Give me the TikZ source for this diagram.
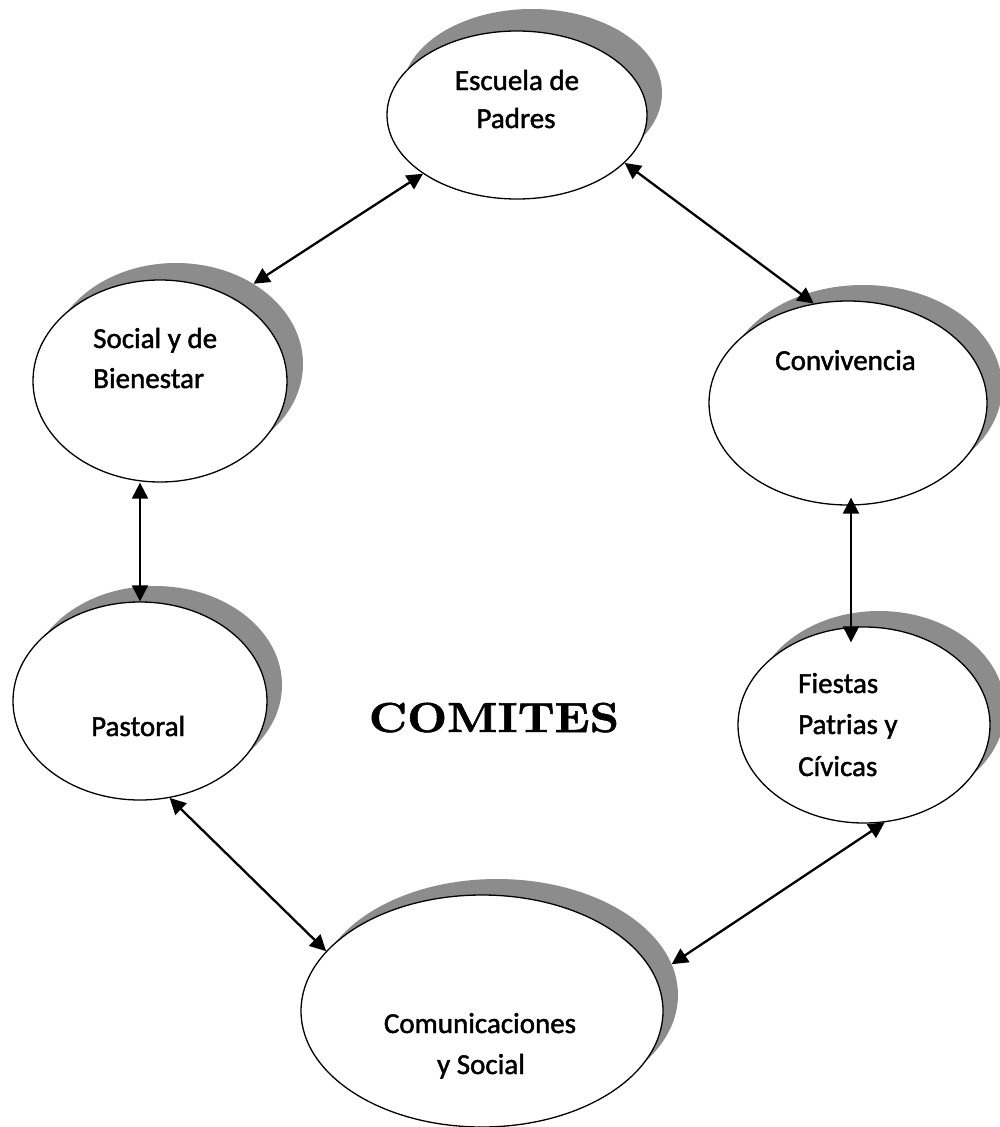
\documentclass[tikz,border=0pt]{standalone}
\usepackage{fontspec}
\usepackage{graphicx}
\newfontfamily\bodyfont{Carlito}[FakeBold=1.5]
\newfontfamily\titlefont{lmroman10-bold.otf}[FakeBold=1.2]
\usetikzlibrary{arrows.meta,shapes.geometric}
\definecolor{shadowgray}{RGB}{140,140,140}
\begin{document}
\begin{tikzpicture}[x=1pt,y=-1pt,
  ell/.style={ellipse, draw=black, line width=1.3pt, fill=white, inner sep=0pt},
  shad/.style={ellipse, fill=shadowgray, draw=none, inner sep=0pt},
  lbl/.style={font=\bodyfont\fontsize{29}{35}\selectfont, inner sep=0pt},
  title/.style={font=\titlefont\fontsize{42}{48}\selectfont, inner sep=0pt},
  arr/.style={line width=2.3pt, {Triangle[length=16pt,width=16pt]}-{Triangle[length=16pt,width=16pt]}},
]
\path[use as bounding box, fill=white] (0,0) rectangle (999,1127);

% shadows
\node[shad, minimum width=260pt, minimum height=168pt] (escS) at (532,93) {};
\node[shad, minimum width=254pt, minimum height=202pt] (socS) at (176,364) {};
\node[shad, minimum width=278pt, minimum height=204pt] (conS) at (863,387) {};
\node[shad, minimum width=254pt, minimum height=198pt] (pasS) at (155,685) {};
\node[shad, minimum width=252pt, minimum height=196pt] (fieS) at (879,709) {};
\node[shad, minimum width=362pt, minimum height=232pt] (comS) at (497,995) {};

% ellipses
\node[ell, minimum width=260pt, minimum height=168pt] (esc) at (517,115) {};
\node[ell, minimum width=254pt, minimum height=202pt] (soc) at (160,381) {};
\node[ell, minimum width=278pt, minimum height=204pt] (con) at (848,403) {};
\node[ell, minimum width=254pt, minimum height=198pt] (pas) at (140,701) {};
\node[ell, minimum width=252pt, minimum height=196pt] (fie) at (864,725) {};
\node[ell, minimum width=362pt, minimum height=232pt] (com) at (482,1011) {};

% connectors
\draw[arr] (esc.212) -- (socS.46);
\draw[arr] (esc.336) -- (con.109);
\draw[arr] ([xshift=-20pt]soc.south) -- (pas.north);
\draw[arr, shorten <=-8pt, shorten >=-16pt] ([xshift=3pt]con.south) -- ([xshift=-13pt]fie.north);
\draw[arr] (pas.287) -- (com.159);
\draw[arr] (fie.282) -- (comS.10);

% labels
\node[lbl, anchor=base] (escT1) at (517,90) {Escuela de};
\node[lbl, anchor=base] (escT2) at (516,128) {Padres};
\node[lbl, anchor=base west] (socT1) at (93,348) {Social y de};
\node[lbl, anchor=base west] (socT2) at (93,388) {Bienestar};
\node[lbl, anchor=base west] (conT) at (775,370) {Convivencia};
\node[lbl, anchor=base west] (pasT) at (91,736) {Pastoral};
\node[lbl, anchor=base west] (fieT1) at (798,693) {Fiestas};
\node[lbl, anchor=base west] (fieT2) at (798,734) {Patrias y};
\node[lbl, anchor=base west] (fieT3) at (798,776) {Cívicas};
\node[lbl, anchor=base] (comT1) at (480,1033) {Comunicaciones};
\node[lbl, anchor=base] (comT2) at (481,1074) {y Social};
\node[title, anchor=base] (ttl) at (494,732) {\scalebox{1.1}[1]{COMITES}};
\end{tikzpicture}
\end{document}
